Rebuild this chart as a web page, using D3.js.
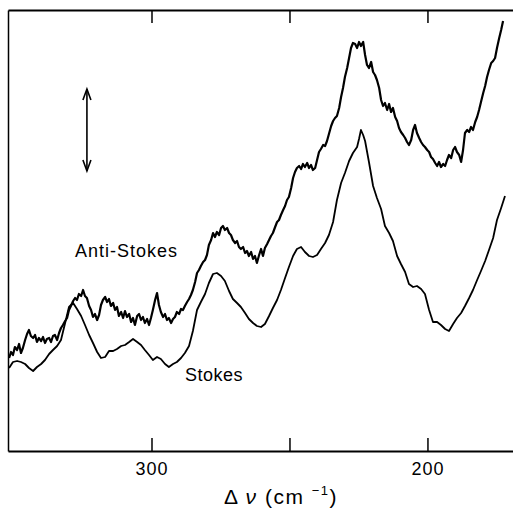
<!DOCTYPE html>
<html>
<head>
<meta charset="utf-8">
<script src="https://cdn.jsdelivr.net/npm/d3@7"></script>
<style>
  body { margin: 0; background: #fff; }
  svg { display: block; }
  text { font-family: "Liberation Sans", Arial, sans-serif; fill: #000; }
</style>
</head>
<body>
<svg width="513" height="512"></svg>
<script>
// Raman shift (cm^-1) axis
var xDomain = [352, 169];
var xTicks = [300, 250, 200];
var xTickLabels = {300: "300", 200: "200"};
// relative intensity, arbitrary units
var yDomain = [0, 441];

// anti-Stokes trace: [shift, intensity]
var antiStokes = [
  [351.6,93],[350.9,99],[350.2,96],[349.5,104],[348.7,101],[348.0,107],[347.3,98],[346.6,103],[345.8,111],[345.1,117],
  [344.4,121],[343.7,115],[342.9,113],[342.2,116],[341.5,109],[340.8,113],[340.0,110],[339.3,114],[338.6,108],[337.9,112],
  [337.1,113],[336.4,109],[335.7,115],[335.0,116],[334.2,111],[333.5,118],[332.8,123],[332.1,126],[331.3,130],[330.6,133],
  [329.9,141],[329.2,145],[328.4,150],[327.7,153],[327.0,151],[326.3,157],[325.5,155],[324.8,161],[324.1,155],[323.4,153],
  [322.6,145],[321.9,141],[321.2,134],[320.5,137],[319.7,131],[319.0,136],[318.3,146],[317.6,151],[316.8,154],[316.1,149],
  [315.4,152],[314.7,145],[313.9,148],[313.2,141],[312.5,144],[311.8,135],[311.0,139],[310.3,133],[309.6,140],[308.9,134],
  [308.1,137],[307.4,129],[306.7,133],[306.0,126],[305.2,135],[304.5,137],[303.8,131],[303.1,134],[302.4,128],[301.6,132],
  [300.9,126],[300.2,133],[299.5,141],[298.7,151],[298.0,158],[297.3,146],[296.6,139],[295.8,134],[295.1,137],[294.4,131],
  [293.7,133],[292.9,128],[292.2,132],[291.5,134],[290.8,139],[290.0,137],[289.3,142],[288.6,141],[287.9,145],[287.1,149],
  [286.4,152],[285.7,156],[285.0,161],[284.2,169],[283.5,178],[282.8,181],[282.1,185],[281.3,189],[280.6,191],[279.9,196],
  [279.2,206],[278.4,211],[277.7,218],[277.0,214],[276.3,219],[275.5,216],[274.8,223],[274.1,225],[273.4,221],[272.6,223],
  [271.9,218],[271.2,216],[270.5,211],[269.7,208],[269.0,210],[268.3,204],[267.6,202],[266.8,204],[266.1,198],[265.4,200],
  [264.7,195],[263.9,199],[263.2,192],[262.5,195],[261.8,188],[261.0,196],[260.3,202],[259.6,195],[258.9,203],[258.1,207],
  [257.4,211],[256.7,215],[256.0,218],[255.2,224],[254.5,229],[253.8,231],[253.1,236],[252.3,241],[251.6,245],[250.9,251],
  [250.2,254],[249.4,263],[248.7,273],[248.0,279],[247.3,283],[246.5,285],[245.8,282],[245.1,287],[244.4,284],[243.6,288],
  [242.9,283],[242.2,286],[241.5,281],[240.7,283],[240.0,291],[239.3,299],[238.6,302],[237.8,306],[237.1,305],[236.4,310],
  [235.7,317],[234.9,325],[234.2,330],[233.5,333],[232.8,335],[232.0,343],[231.3,354],[230.6,363],[229.9,374],[229.1,383],
  [228.4,393],[227.7,403],[227.0,408],[226.2,407],[225.5,403],[224.8,409],[224.1,405],[223.3,409],[222.6,396],[221.9,386],
  [221.2,383],[220.4,389],[219.7,379],[219.0,376],[218.3,371],[217.5,363],[216.8,351],[216.1,345],[215.4,348],[214.6,341],
  [213.9,347],[213.2,339],[212.5,343],[211.7,334],[211.0,330],[210.3,323],[209.6,319],[208.8,316],[208.1,313],[207.4,309],
  [206.7,306],[205.9,311],[205.2,321],[204.5,326],[203.8,318],[203.0,313],[202.3,309],[201.6,306],[200.9,304],[200.1,301],
  [199.4,299],[198.7,294],[198.0,292],[197.2,288],[196.5,285],[195.8,289],[195.1,284],[194.3,287],[193.6,285],[192.9,291],
  [192.2,296],[191.4,293],[190.7,301],[190.0,304],[189.3,299],[188.5,296],[187.8,289],[187.1,301],[186.4,318],[185.6,321],
  [184.9,319],[184.2,324],[183.5,321],[182.7,329],[182.0,334],[181.3,341],[180.6,349],[179.8,358],[179.1,365],[178.4,374],
  [177.7,381],[176.9,388],[176.2,390],[175.5,393],[174.8,403],[174.0,413],[173.3,421],[172.6,430]
];

// Stokes trace: [shift, intensity]
var stokes = [
  [351.6,83],[350.2,89],[348.7,90],[347.3,89],[345.8,87],[344.4,83],[342.9,80],[341.5,84],[340.0,87],[338.6,91],
  [337.1,97],[335.7,101],[334.2,105],[332.8,111],[331.3,128],[329.9,144],[328.4,148],[327.0,142],[325.5,135],[324.1,126],
  [322.6,116],[321.2,108],[319.7,99],[318.3,93],[316.8,94],[315.4,100],[313.9,100],[312.5,102],[311.0,105],[309.6,106],
  [308.1,109],[306.7,112],[305.2,109],[303.8,106],[302.4,101],[300.9,96],[299.5,91],[298.0,94],[296.6,92],[295.1,87],
  [293.7,84],[292.2,87],[290.8,89],[289.3,93],[287.9,98],[286.4,105],[285.0,120],[283.5,141],[282.1,149],[280.6,157],
  [279.2,168],[277.7,177],[276.3,178],[274.8,175],[273.4,170],[271.9,160],[270.5,152],[269.0,148],[267.6,144],[266.1,138],
  [264.7,132],[263.2,128],[261.8,125],[260.3,124],[258.9,127],[257.4,135],[256.0,143],[254.5,151],[253.1,161],[251.6,173],
  [250.2,184],[248.7,195],[247.3,202],[245.8,204],[244.4,199],[242.9,195],[241.5,194],[240.0,196],[238.6,202],[237.1,208],
  [235.7,216],[234.2,229],[232.8,251],[231.3,268],[229.9,278],[228.4,290],[227.0,298],[225.5,304],[224.8,312],[224.1,321],
  [223.3,316],[222.6,310],[221.2,289],[219.7,265],[218.3,253],[216.8,242],[215.4,225],[213.9,218],[212.5,210],[211.0,195],
  [209.6,187],[208.1,179],[206.7,167],[205.2,164],[203.8,165],[202.3,162],[200.9,157],[199.4,141],[198.0,129],[196.5,129],
  [195.1,126],[193.6,122],[192.2,120],[190.7,127],[189.3,133],[187.8,138],[186.4,145],[184.9,153],[183.5,161],[182.0,171],
  [180.6,180],[179.1,190],[177.7,201],[176.2,213],[174.8,231],[173.3,243],[171.9,255]
];

// vertical intensity scale bar
var scaleBarShift = 323.4;
var scaleBar = [280, 362];

var margin = {left: 8, right: 0, top: 10, bottom: 61};
var W = 513, H = 512;

var svg = d3.select("svg");

var x = d3.scaleLinear().domain(xDomain).range([margin.left, W - margin.right]);
var y = d3.scaleLinear().domain(yDomain).range([H - margin.bottom, margin.top]);

var line = d3.line()
  .x(d => x(d[0]))
  .y(d => y(d[1]));

// frame
var gb = svg.append("g")
  .attr("transform", "translate(0," + (H - margin.bottom) + ")")
  .call(d3.axisBottom(x).tickValues(xTicks).tickSizeInner(-13).tickSizeOuter(0).tickPadding(11)
    .tickFormat(d => xTickLabels[d] || ""));
gb.select(".domain").attr("stroke-width", 2);
gb.selectAll(".tick line").attr("stroke-width", 1.5);
gb.selectAll(".tick text").attr("font-size", 18).attr("letter-spacing", 1)
  .attr("font-family", "Liberation Sans, Arial, sans-serif");

var gt = svg.append("g")
  .attr("transform", "translate(0," + margin.top + ")")
  .call(d3.axisTop(x).tickValues(xTicks).tickSizeInner(-13).tickSizeOuter(0).tickFormat(""));
gt.select(".domain").attr("stroke-width", 2);
gt.selectAll(".tick line").attr("stroke-width", 1.5);

var gl = svg.append("g")
  .attr("transform", "translate(" + margin.left + ",0)")
  .call(d3.axisLeft(y).tickValues([]).tickSizeOuter(0));
gl.select(".domain").attr("stroke-width", 1.5);

// traces
svg.append("path").datum(stokes)
  .attr("fill", "none").attr("stroke", "#000").attr("stroke-width", 1.8)
  .attr("stroke-linejoin", "round")
  .attr("d", line);

svg.append("path").datum(antiStokes)
  .attr("fill", "none").attr("stroke", "#000").attr("stroke-width", 2.2)
  .attr("stroke-linejoin", "round")
  .attr("d", line);

// scale bar arrow
var ax = x(scaleBarShift), ay0 = y(scaleBar[0]), ay1 = y(scaleBar[1]);
var arrow = svg.append("g").attr("stroke", "#000").attr("fill", "none").attr("stroke-width", 1.6);
arrow.append("line").attr("x1", ax).attr("x2", ax).attr("y1", ay0).attr("y2", ay1);
arrow.append("path").attr("d", "M" + (ax - 4) + "," + (ay1 + 11) + "L" + ax + "," + ay1 + "L" + (ax + 4) + "," + (ay1 + 11));
arrow.append("path").attr("d", "M" + (ax - 4) + "," + (ay0 - 11) + "L" + ax + "," + ay0 + "L" + (ax + 4) + "," + (ay0 - 11));

// labels
svg.append("text").attr("x", 75).attr("y", 257).attr("font-size", 18).attr("letter-spacing", 1)
  .text("Anti-Stokes");
svg.append("text").attr("x", 185).attr("y", 381).attr("font-size", 18).attr("letter-spacing", 0.5)
  .text("Stokes");

var xl = svg.append("text").attr("x", 281).attr("y", 504).attr("text-anchor", "middle")
  .attr("font-size", 21).attr("letter-spacing", 1.5);
xl.append("tspan").text("\u0394 ");
xl.append("tspan").attr("font-style", "italic").text("\u03bd");
xl.append("tspan").text("  (cm ");
xl.append("tspan").attr("font-size", 13).attr("dy", -9).text("\u22121");
xl.append("tspan").attr("dy", 9).text(")");
</script>
</body>
</html>
